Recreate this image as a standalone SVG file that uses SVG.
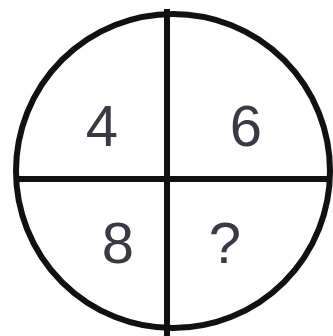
<svg xmlns="http://www.w3.org/2000/svg" width="333" height="336" viewBox="0 0 333 336">
<style>
.ln{stroke:#111;stroke-width:6;fill:none}
.t{font-family:"Liberation Sans",Arial,sans-serif;font-size:58px;fill:#3a3a44;text-anchor:middle}
</style>
<rect width="333" height="336" fill="#fff"/>
<g id="circle"><circle class="ln" cx="173" cy="171" r="157"/></g>
<g id="connectors">
<line class="ln" x1="167" y1="9" x2="167" y2="336" stroke-width="7"/>
<line class="ln" x1="14" y1="179" x2="331" y2="179" stroke-width="8"/>
</g>
<g id="n4"><text class="t" x="102" y="146">4</text></g>
<g id="n6"><text class="t" x="246" y="146">6</text></g>
<g id="n8"><text class="t" x="118" y="263">8</text></g>
<g id="nq"><text class="t" x="225" y="263">?</text></g>
</svg>
